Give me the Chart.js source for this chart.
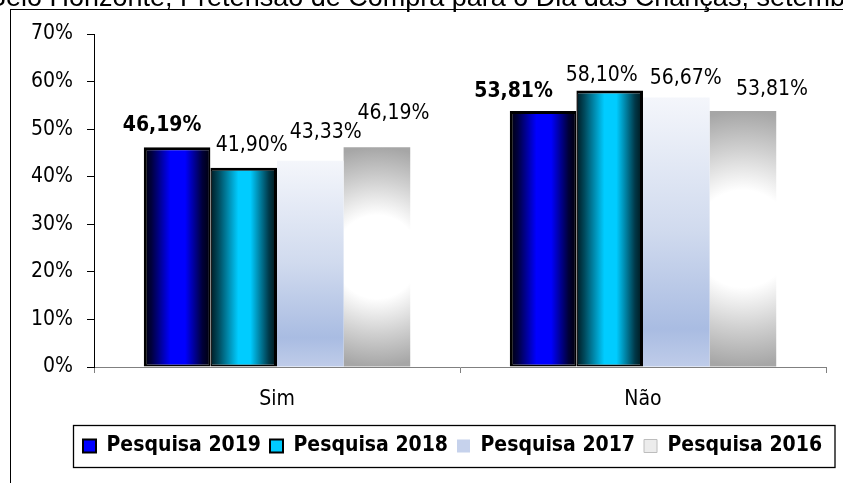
<!DOCTYPE html>
<html>
<head>
<meta charset="utf-8">
<script src="https://cdn.jsdelivr.net/npm/chart.js@4.4.1/dist/chart.umd.min.js"></script>
<style>
  html, body { margin: 0; padding: 0; background: #ffffff; }
  #wrap { position: relative; width: 843px; height: 483px; }
</style>
</head>
<body>
<div id="wrap"><canvas id="chart" width="843" height="483"></canvas></div>
<script>
// ---------- data ----------
const chartTitle = 'Belo Horizonte, Pretensão de Compra para o Dia das Crianças, setembro 2019';
const categories = ['Sim', 'Não'];
const seriesNames = ['Pesquisa 2019', 'Pesquisa 2018', 'Pesquisa 2017', 'Pesquisa 2016'];
const pesquisa2019 = [46.19, 53.81];
const pesquisa2018 = [41.90, 58.10];
const pesquisa2017 = [43.33, 56.67];
const pesquisa2016 = [46.19, 53.81];
const yTickLabels = ['0%', '10%', '20%', '30%', '40%', '50%', '60%', '70%'];

// ---------- styles ----------
function condensedAvailable() {
  const c = document.createElement('canvas').getContext('2d');
  const s = 'Pesquisa 2019 Sim Não 46,19%';
  c.font = '40px "DejaVu Sans"';
  const a = c.measureText(s).width;
  c.font = '40px "DejaVu Sans Condensed", "DejaVu Sans"';
  const b = c.measureText(s).width;
  return b < a * 0.95;
}
const COND = condensedAvailable();
const FAMILY = COND ? '"DejaVu Sans Condensed", "DejaVu Sans", sans-serif' : '"DejaVu Sans", sans-serif';
const FS = COND ? 21 : 19;

const fills = [
  { type: 'h', stops: [[0, '#000008'], [0.12, '#000040'], [0.4, '#0000ff'], [0.62, '#0000ff'], [0.88, '#00003a'], [1, '#000008']] },
  { type: 'h', stops: [[0, '#001a22'], [0.12, '#00495c'], [0.42, '#00ccff'], [0.6, '#00ccff'], [0.88, '#003848'], [1, '#001418']] },
  { type: 'v', stops: [[0, '#f4f6fb'], [0.5, '#d0daee'], [0.86, '#a9bce2'], [1, '#bfcce9']] },
  { type: 'r', stops: [[0, '#ffffff'], [0.38, '#ffffff'], [0.7, '#d0d0d0'], [1, '#a6a6a6']] }
];
const borderWidths = [
  { top: 3, left: 3, right: 1.5, bottom: 2 },
  { top: 3, left: 1.5, right: 3, bottom: 2 },
  0,
  0
];
const legendFill = ['#0000ff', '#00ccff', '#c6d2ec', '#ececec'];
const legendStroke = ['#000000', '#000000', '#c6d2ec', '#bdbdbd'];
const legendLine = [2, 2, 0, 1];
// label placement relative to bar top centre [dx, dy]
const labelShift = [
  [[-15, -22], [-29.5, -19]],
  [[8, -22], [-8, -15]],
  [[15.5, -28], [9.5, -18.5]],
  [[16.5, -34], [29, -21.5]]
];

function fmtPct(v) { return v.toFixed(2).replace('.', ',') + '%'; }

// ---------- plugins ----------
const framePlugin = {
  id: 'frame',
  beforeDraw(chart) {
    const ctx = chart.ctx;
    ctx.save();
    ctx.fillStyle = '#ffffff';
    ctx.fillRect(0, 0, chart.width, chart.height);
    ctx.strokeStyle = '#000000';
    ctx.lineWidth = 1;
    ctx.strokeRect(10.5, 9.5, 1000, 1000);
    ctx.font = '27px "Liberation Sans", Arial, sans-serif';
    ctx.fillStyle = '#000000';
    ctx.textAlign = 'left';
    ctx.textBaseline = 'alphabetic';
    ctx.fillText(chartTitle, -12, 6);
    ctx.restore();
  },
  afterLayout(chart) {
    const lg = chart.legend;
    if (lg) { lg.left = 74; lg.right = 860; }
  },
  afterDraw(chart) {
    const lg = chart.legend;
    if (!lg || !lg.legendHitBoxes || !lg.legendHitBoxes.length) return;
    const hb = lg.legendHitBoxes[lg.legendHitBoxes.length - 1];
    const ctx = chart.ctx;
    ctx.save();
    ctx.strokeStyle = '#000000';
    ctx.lineWidth = 1.3;
    const right = Math.max(hb.left + hb.width + 9, 835);
    ctx.strokeRect(73.5, lg.top - 1, right - 73.5, lg.bottom - lg.top + 2);
    ctx.restore();
  }
};

const gradientPlugin = {
  id: 'barGradients',
  beforeDatasetsDraw(chart) {
    const ctx = chart.ctx;
    chart.data.datasets.forEach((ds, i) => {
      const meta = chart.getDatasetMeta(i);
      meta.data.forEach(el => {
        const { x, y, base, width } = el.getProps(['x', 'y', 'base', 'width'], true);
        const f = fills[i];
        let g;
        if (f.type === 'h') {
          g = ctx.createLinearGradient(x - width / 2, 0, x + width / 2, 0);
        } else if (f.type === 'v') {
          g = ctx.createLinearGradient(0, y, 0, base);
        } else {
          const h = base - y;
          g = ctx.createRadialGradient(x, y + h / 2, 0, x, y + h / 2, h / 2);
        }
        f.stops.forEach(s => g.addColorStop(s[0], s[1]));
        el.options.backgroundColor = g;
      });
    });
  }
};

const labelPlugin = {
  id: 'valueLabels',
  afterDatasetsDraw(chart) {
    const ctx = chart.ctx;
    chart.data.datasets.forEach((ds, i) => {
      chart.getDatasetMeta(i).data.forEach((el, j) => {
        const sh = labelShift[i][j];
        ctx.save();
        ctx.font = (i === 0 ? 'bold ' : '') + FS + 'px ' + FAMILY;
        ctx.fillStyle = '#000000';
        ctx.textAlign = 'center';
        ctx.textBaseline = 'middle';
        ctx.fillText(fmtPct(ds.data[j]), el.x + sh[0], el.y + sh[1]);
        ctx.restore();
      });
    });
  }
};

// ---------- chart ----------
const seriesValues = [pesquisa2019, pesquisa2018, pesquisa2017, pesquisa2016];
const datasets = seriesNames.map((name, i) => ({
  label: name,
  data: seriesValues[i],
  backgroundColor: () => '#cccccc',
  borderColor: '#000000',
  borderWidth: borderWidths[i],
  borderSkipped: false,
  categoryPercentage: 0.728,
  barPercentage: 1.0
}));

new Chart(document.getElementById('chart'), {
  type: 'bar',
  data: { labels: categories, datasets: datasets },
  options: {
    responsive: false,
    animation: false,
    events: [],
    layout: { padding: { left: 0, right: 17, top: 34, bottom: 16.5 } },
    scales: {
      x: {
        afterFit: s => { s.height = 59.5; },
        border: { display: true, color: '#808080', width: 1 },
        grid: { display: true, drawOnChartArea: false, drawTicks: true, tickLength: 6, color: '#808080', offset: true },
        ticks: { color: '#000000', padding: 14, font: { family: FAMILY, size: FS } }
      },
      y: {
        min: 0, max: 70,
        afterFit: s => { s.width = 94; },
        border: { display: true, color: '#000000', width: 1 },
        grid: { display: true, drawOnChartArea: false, drawTicks: true, tickLength: 7, color: '#000000' },
        ticks: {
          stepSize: 10,
          padding: 14,
          color: '#000000',
          font: { family: FAMILY, size: FS },
          callback: (v) => yTickLabels[Math.round(v / 10)]
        }
      }
    },
    plugins: {
      title: { display: false },
      tooltip: { enabled: false },
      legend: {
        display: true,
        position: 'bottom',
        align: 'start',
        labels: {
          boxWidth: 13,
          boxHeight: 13,
          padding: 9,
          color: '#000000',
          font: { family: FAMILY, size: FS, weight: 'bold' },
          generateLabels: (chart) => chart.data.datasets.map((ds, i) => ({
            text: ds.label,
            fillStyle: legendFill[i],
            strokeStyle: legendStroke[i],
            lineWidth: legendLine[i],
            fontColor: '#000000',
            hidden: false,
            datasetIndex: i
          }))
        }
      }
    }
  },
  plugins: [framePlugin, gradientPlugin, labelPlugin]
});
</script>
</body>
</html>
